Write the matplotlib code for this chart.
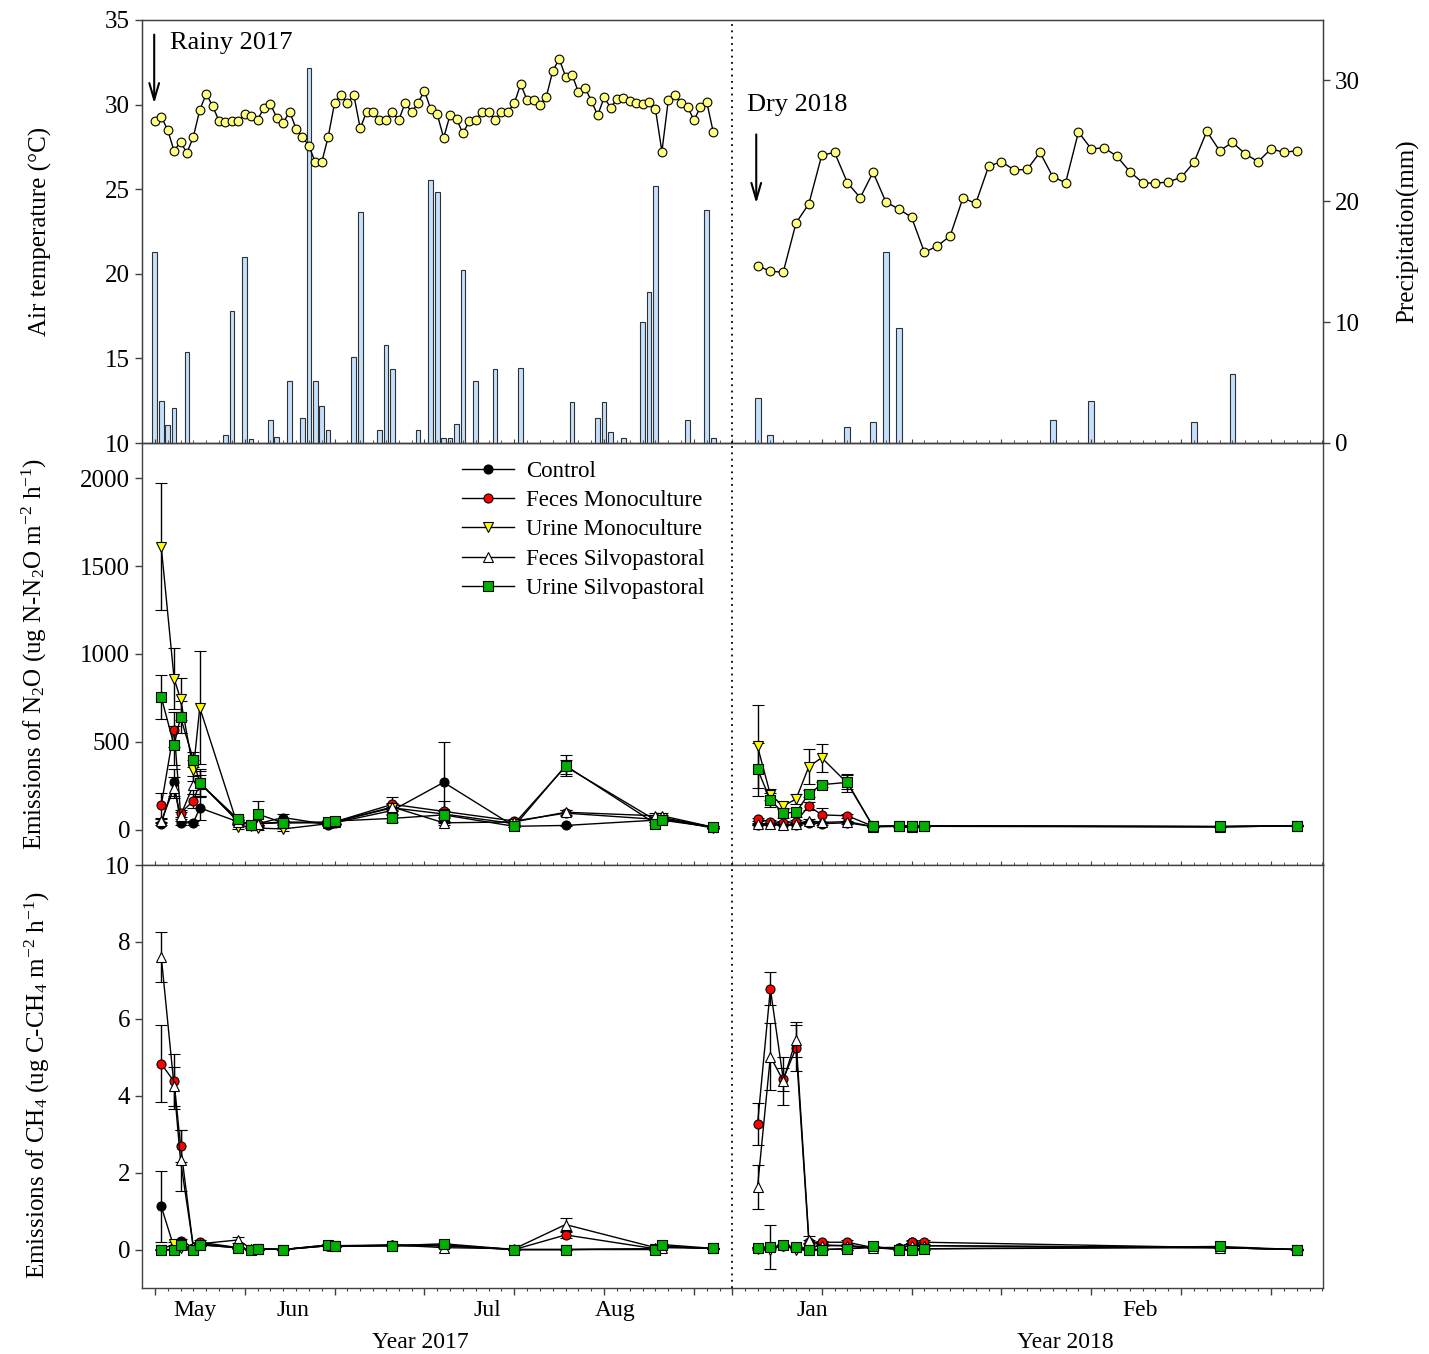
import matplotlib.pyplot as plt
from matplotlib.lines import Line2D
from matplotlib import transforms
import numpy as np

plt.rcParams['font.family'] = ['Liberation Serif', 'DejaVu Serif']
plt.rcParams['mathtext.fontset'] = 'custom'
plt.rcParams['mathtext.rm'] = 'Liberation Serif'
plt.rcParams['mathtext.it'] = 'Liberation Serif:italic'

# x axis is in days; the 2018 campaign starts at the dotted line
OFF18 = 89.9

# ---- weather, rainy season 2017 (daily) ----
temp17 = [29.03, 29.29, 28.5, 27.26, 27.8, 27.14, 28.1, 29.68, 30.63, 29.92,
          29.03, 28.99, 29.03, 29.03, 29.44, 29.33, 29.09, 29.82, 30.02, 29.23,
          28.93, 29.58, 28.58, 28.08, 27.57, 26.59, 26.59, 28.08, 30.08, 30.59,
          30.08, 30.57, 28.6, 29.58, 29.58, 29.09, 29.09, 29.58, 29.09, 30.09,
          29.58, 30.08, 30.82, 29.72, 29.42, 28.04, 29.39, 29.15, 28.3, 29.03,
          29.09, 29.58, 29.58, 29.09, 29.58, 29.58, 30.08, 31.2, 30.27, 30.27,
          29.98, 30.47, 31.99, 32.7, 31.65, 31.77, 30.73, 31.0, 30.23, 29.37,
          30.43, 29.82, 30.31, 30.37, 30.21, 30.11, 30.02, 30.15, 29.72, 27.22,
          30.27, 30.57, 30.08, 29.88, 29.07, 29.86, 30.13, 28.38]
rain17_days = [0, 1, 2, 3, 5, 11, 12, 14, 15, 18, 19, 21, 23, 24, 25, 26, 27,
               31, 32, 35, 36, 37, 41, 43, 44, 45, 46, 47, 48, 50, 53, 57,
               65, 69, 70, 71, 73, 76, 77, 78, 83, 86, 87]
rain17_mm = [15.8, 3.5, 1.5, 2.9, 7.5, 0.7, 10.9, 15.4, 0.3, 1.9, 0.5, 5.1,
             2.1, 31.0, 5.1, 3.1, 1.1, 7.1, 19.1, 1.1, 8.1, 6.1, 1.1, 21.8,
             20.8, 0.4, 0.4, 1.6, 14.3, 5.1, 6.1, 6.2,
             3.4, 2.1, 3.4, 0.9, 0.4, 10.0, 12.5, 21.3, 1.9, 19.3, 0.4]

# ---- weather, dry season 2018 (every second day) ----
temp18 = [20.48, 20.15, 20.09, 23.0, 24.14, 27.0, 27.18, 25.38, 24.5, 26.0,
          24.24, 23.83, 23.34, 21.27, 21.64, 22.23, 24.48, 24.16, 26.35, 26.63,
          26.13, 26.17, 27.18, 25.74, 25.38, 28.38, 27.38, 27.45, 26.94, 26.04,
          25.38, 25.35, 25.43, 25.70, 26.59, 28.42, 27.27, 27.77, 27.08, 26.63,
          27.38, 27.18, 27.27]
rain18_days = [4, 6, 18, 22, 24, 26, 50, 56, 72, 78]
rain18_mm = [3.7, 0.7, 1.3, 1.7, 15.8, 9.5, 1.9, 3.5, 1.7, 5.7]

# ---- emissions ----
names = ['Control', 'Feces Monoculture', 'Urine Monoculture',
         'Feces Silvopastoral', 'Urine Silvopastoral']
days17 = [1, 3, 4, 6, 7, 13, 15, 16, 20, 27, 28, 37, 45, 56, 64, 78, 79, 87]
days18 = [4, 6, 8, 10, 12, 14, 18, 22, 26, 28, 30, 76, 88]

n2o17 = [
    [35, 270, 40, 40, 125, 45, 30, 35, 70, 30, 40, 110, 270, 20, 25, 55, 60, 15],
    [140, 570, 95, 165, 265, 50, 30, 35, 45, 40, 45, 145, 105, 50, 95, 60, 70, 15],
    [1610, 860, 745, 340, 695, 15, 20, 10, 5, 35, 45, 125, 90, 35, 360, 55, 65, 10],
    [50, 240, 80, 255, 270, 45, 30, 35, 40, 40, 45, 130, 40, 45, 100, 80, 80, 15],
    [755, 480, 640, 400, 265, 60, 25, 90, 40, 45, 50, 65, 85, 20, 365, 35, 55, 15],
]
n2o17_se = [
    [10, 75, 10, 10, 70, 10, 10, 10, 20, 10, 10, 20, 230, 5, 5, 10, 10, 5],
    [70, 100, 20, 40, 80, 10, 10, 10, 10, 10, 10, 40, 60, 10, 15, 15, 15, 5],
    [360, 175, 120, 60, 320, 10, 10, 10, 10, 10, 10, 20, 15, 10, 40, 10, 10, 5],
    [10, 60, 20, 50, 40, 10, 10, 10, 10, 10, 10, 20, 10, 10, 15, 15, 15, 5],
    [125, 110, 90, 45, 70, 15, 15, 75, 10, 10, 10, 20, 20, 5, 60, 10, 10, 5],
]
n2o18 = [
    [30, 35, 30, 30, 40, 35, 40, 18, 20, 18, 20, 18, 22],
    [60, 47, 40, 47, 136, 85, 80, 20, 22, 20, 22, 18, 22],
    [475, 200, 136, 175, 360, 410, 265, 19, 22, 19, 22, 18, 22],
    [32, 35, 30, 32, 53, 42, 47, 18, 20, 18, 20, 18, 22],
    [345, 170, 95, 100, 205, 257, 270, 19, 23, 19, 23, 19, 23],
]
n2o18_se = [
    [5, 5, 5, 5, 5, 5, 5, 3, 3, 3, 3, 3, 3],
    [10, 10, 10, 10, 25, 40, 10, 3, 3, 3, 3, 3, 3],
    [235, 30, 20, 30, 100, 80, 50, 3, 3, 3, 3, 3, 3],
    [5, 5, 5, 5, 10, 5, 5, 3, 3, 3, 3, 3, 3],
    [150, 40, 30, 25, 20, 15, 40, 3, 3, 3, 3, 3, 3],
]

ch417 = [
    [1.12, 0.05, 0.23, 0.05, 0.15, 0.05, 0.0, 0.02, 0.0, 0.1, 0.08, 0.1, 0.1, 0.0, 0.0, 0.02, 0.08, 0.03],
    [4.83, 4.37, 2.70, 0.05, 0.19, 0.05, 0.0, 0.02, 0.0, 0.1, 0.08, 0.12, 0.12, 0.0, 0.38, 0.02, 0.08, 0.03],
    [0.0, 0.15, 0.05, 0.0, 0.12, 0.05, 0.0, 0.02, 0.0, 0.1, 0.08, 0.1, 0.1, 0.0, 0.0, 0.02, 0.08, 0.03],
    [7.62, 4.24, 2.32, 0.06, 0.15, 0.25, 0.02, 0.02, 0.0, 0.12, 0.1, 0.12, 0.05, 0.02, 0.65, 0.05, 0.05, 0.03],
    [0.0, 0.0, 0.12, 0.0, 0.13, 0.04, 0.0, 0.02, 0.0, 0.12, 0.1, 0.1, 0.15, 0.0, 0.0, 0.0, 0.13, 0.03],
]
ch417_se = [
    [0.93, 0.05, 0.05, 0.02, 0.05, 0.02, 0.02, 0.02, 0.02, 0.02, 0.02, 0.02, 0.02, 0.02, 0.02, 0.02, 0.02, 0.02],
    [1.0, 0.72, 0.42, 0.02, 0.05, 0.02, 0.02, 0.02, 0.02, 0.02, 0.02, 0.02, 0.02, 0.02, 0.08, 0.02, 0.02, 0.02],
    [0.02, 0.05, 0.02, 0.02, 0.02, 0.02, 0.02, 0.02, 0.02, 0.02, 0.02, 0.02, 0.02, 0.02, 0.02, 0.02, 0.02, 0.02],
    [0.65, 0.5, 0.8, 0.02, 0.05, 0.07, 0.02, 0.02, 0.02, 0.02, 0.02, 0.02, 0.02, 0.02, 0.18, 0.02, 0.02, 0.02],
    [0.02, 0.02, 0.03, 0.02, 0.03, 0.02, 0.02, 0.02, 0.02, 0.02, 0.02, 0.02, 0.02, 0.02, 0.02, 0.02, 0.02, 0.02],
]
ch418 = [
    [0.05, 0.06, 0.1, 0.05, 0.05, 0.12, 0.1, 0.05, 0.05, 0.2, 0.1, 0.05, 0.0],
    [3.26, 6.78, 4.43, 5.24, 0.19, 0.19, 0.19, 0.05, 0.05, 0.19, 0.19, 0.05, 0.0],
    [0.02, 0.0, 0.1, 0.0, 0.0, 0.0, 0.02, 0.05, 0.0, 0.0, 0.02, 0.05, 0.0],
    [1.63, 5.02, 4.39, 5.46, 0.26, 0.1, 0.1, 0.05, 0.05, 0.1, 0.1, 0.05, 0.0],
    [0.04, 0.06, 0.12, 0.06, 0.0, 0.0, 0.02, 0.08, 0.0, 0.0, 0.02, 0.08, 0.0],
]
ch418_se = [
    [0.02, 0.57, 0.02, 0.02, 0.02, 0.02, 0.02, 0.02, 0.02, 0.02, 0.02, 0.02, 0.02],
    [0.55, 0.43, 0.3, 0.6, 0.05, 0.02, 0.05, 0.02, 0.02, 0.05, 0.05, 0.02, 0.02],
    [0.02, 0.02, 0.02, 0.02, 0.02, 0.02, 0.02, 0.02, 0.02, 0.02, 0.02, 0.02, 0.02],
    [0.57, 0.86, 0.63, 0.45, 0.1, 0.02, 0.02, 0.02, 0.02, 0.02, 0.02, 0.02, 0.02],
    [0.02, 0.02, 0.02, 0.02, 0.02, 0.02, 0.02, 0.02, 0.02, 0.02, 0.02, 0.02, 0.02],
]

month_labels = ['May', 'Jun', 'Jul', 'Aug', 'Jan', 'Feb']
month_pos = [6.3, 21.5, 51.8, 71.7, 102.4, 153.5]
year_labels = ['Year 2017', 'Year 2018']
year_pos = [41.3, 141.8]

# marker styles per treatment
markers = ['o', 'o', 'v', '^', 's']
mcolors = ['black', 'red', 'yellow', 'white', '#00b000']
msizes = [6.5, 6.5, 7.5, 7.5, 7]

spine_col = '#404040'
FS = 18

fig = plt.figure(figsize=(14.29, 13.54), dpi=100)
L, W = 142 / 1429, 1181 / 1429
ax_t = fig.add_axes([L, 1 - 443 / 1354, W, 423 / 1354])
ax_n = fig.add_axes([L, 1 - 865 / 1354, W, 422 / 1354], sharex=ax_t)
ax_c = fig.add_axes([L, 1 - 1288 / 1354, W, 423 / 1354], sharex=ax_t)

# ---- top panel: temperature and rain ----
ax_p = ax_t.twinx()
ax_p.bar(rain17_days, rain17_mm, width=0.73, color='#c4e0fc',
         edgecolor='#303030', linewidth=0.8)
ax_p.bar(OFF18 + np.array(rain18_days), rain18_mm, width=0.93,
         color='#c4e0fc', edgecolor='#303030', linewidth=0.8)
ax_t.plot(np.arange(len(temp17)), temp17, '-o', color='black', lw=1,
          mfc='#ffff80', mec='black', mew=0.8, ms=6.3)
ax_t.plot(OFF18 + np.arange(4, 4 + 2 * len(temp18), 2), temp18, '-o',
          color='black', lw=1, mfc='#ffff80', mec='black', mew=0.8, ms=6.3)
ax_t.set_zorder(ax_p.get_zorder() + 1)
ax_t.patch.set_visible(False)

ax_t.set_ylim(10, 35)
ax_t.set_yticks([10, 15, 20, 25, 30, 35])
ax_p.set_ylim(0, 35)
ax_p.set_yticks([0, 10, 20, 30])
ax_t.set_ylabel('Air temperature (\u00b0C)', fontsize=FS)
ax_t.yaxis.set_label_coords(-0.076, 0.5)
ax_p.set_ylabel('Precipitation(mm)', fontsize=FS)
ax_p.yaxis.set_label_coords(1.062, 0.5)

arrow = dict(arrowstyle='->,head_length=1.2,head_width=0.35', lw=1.5,
             color='black')
ax_t.annotate('', xy=(-0.1, 29.9), xytext=(-0.1, 34.3), arrowprops=arrow)
ax_t.annotate('', xy=(OFF18 + 3.8, 24.0), xytext=(OFF18 + 3.8, 28.4),
              arrowprops=arrow)
ax_t.text(2.4, 33.65, 'Rainy 2017', fontsize=19, va='center')
ax_t.text(OFF18 + 2.3, 30.0, 'Dry 2018', fontsize=19, va='center')


# ---- emission panels ----
def draw(ax, v17, e17, v18, e18):
    for i in range(len(names)):
        for xs, v, e in ((np.array(days17), v17[i], e17[i]),
                         (OFF18 + np.array(days18), v18[i], e18[i])):
            ax.errorbar(xs, v, yerr=e, color='black', lw=1, elinewidth=1,
                        capsize=4.5, capthick=1, marker=markers[i],
                        mfc=mcolors[i], mec='black', mew=0.8, ms=msizes[i])


draw(ax_n, n2o17, n2o17_se, n2o18, n2o18_se)
draw(ax_c, ch417, ch417_se, ch418, ch418_se)

ax_n.set_ylim(-200, 2200)
ax_n.set_yticks([0, 500, 1000, 1500, 2000])
ax_n.set_ylabel('Emissions of N$_2$O (ug N-N$_2$O m$^{-2}$ h$^{-1}$)',
                fontsize=FS)
ax_n.yaxis.set_label_coords(-0.079, 0.5)
ax_c.set_ylim(-1, 10)
ax_c.set_yticks([0, 2, 4, 6, 8, 10])
ax_c.set_ylabel('Emissions of CH$_4$ (ug C-CH$_4$ m$^{-2}$ h$^{-1}$)',
                fontsize=FS)
ax_c.yaxis.set_label_coords(-0.076, 0.48)

handles = [Line2D([], [], color='black', lw=1, marker=markers[i],
                  mfc=mcolors[i], mec='black', mew=0.8, ms=msizes[i])
           for i in range(len(names))]
ax_n.legend(handles, names, loc='upper left', bbox_to_anchor=(0.261, 0.985),
            frameon=False, fontsize=16.5, handlelength=2.3,
            handletextpad=0.5, labelspacing=0.36, borderpad=0)

# ---- x axis ----
major = [d for d in range(0, 85, 14)] + [OFF18 + d for d in range(0, 85, 14)]
minor = [d for d in range(0, 89, 2)] + [OFF18 + d for d in range(0, 93, 2)]
ax_c.set_xlim(-2, 182)
ax_c.set_xticks(major)
ax_c.set_xticks(minor, minor=True)

for ax in (ax_t, ax_n, ax_c):
    ax.axvline(OFF18, color='black', ls=(0, (1, 2.5)), lw=1.3)
    for s in ax.spines.values():
        s.set_color(spine_col)
        s.set_linewidth(1)
    ax.tick_params(axis='y', direction='out', length=5, width=1,
                   labelsize=FS, color=spine_col)
    ax.tick_params(axis='x', labelbottom=False)
for ax in (ax_t, ax_n):
    ax.tick_params(axis='x', which='major', direction='in', length=3,
                   color=spine_col)
    ax.tick_params(axis='x', which='minor', direction='in', length=2,
                   color=spine_col)
for s in ax_p.spines.values():
    s.set_color(spine_col)
ax_p.tick_params(axis='y', direction='out', length=5, width=1,
                 labelsize=FS, color=spine_col)
ax_c.tick_params(axis='x', which='major', direction='out', length=5,
                 width=1, color=spine_col)
ax_c.tick_params(axis='x', which='minor', direction='out', length=2.5,
                 width=0.8, color=spine_col)

trans = transforms.blended_transform_factory(ax_c.transData, ax_c.transAxes)
for lab, x in zip(month_labels, month_pos):
    ax_c.text(x, -0.066, lab, transform=trans, ha='center', va='baseline',
              fontsize=17)
for lab, x in zip(year_labels, year_pos):
    ax_c.text(x, -0.142, lab, transform=trans, ha='center', va='baseline',
              fontsize=17)

fig.savefig('out.png', dpi=100)
